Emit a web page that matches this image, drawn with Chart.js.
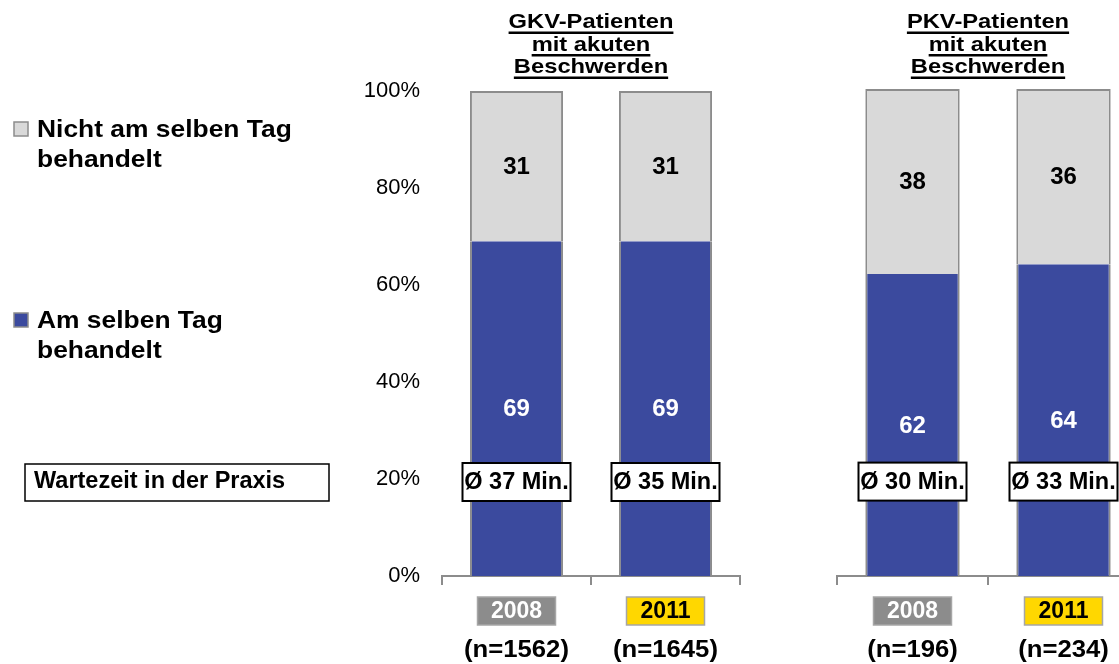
<!DOCTYPE html>
<html lang="de">
<head>
<meta charset="utf-8">
<title>Wartezeit in der Praxis – GKV / PKV</title>
<script src="https://cdn.jsdelivr.net/npm/chart.js@4.4.1/dist/chart.umd.min.js"></script>
<style>
  html, body { margin: 0; padding: 0; background: #fff; overflow: hidden; width: 1119px; height: 664px; }
  #wrapGKV { position: absolute; left: 0; top: 0; width: 760px; height: 664px; }
  /* rechte Gruppe läuft wie im Original über den Rand hinaus */
  #wrapPKV { position: absolute; left: 760px; top: 0; width: 400px; height: 664px; }
</style>
</head>
<body>
<div id="wrapGKV"><canvas id="chartGKV"></canvas></div>
<div id="wrapPKV"><canvas id="chartPKV"></canvas></div>
<script>
// ---- Daten ----
const years = ['2008', '2011'];
const seriesLabels = [['Am selben Tag', 'behandelt'], ['Nicht am selben Tag', 'behandelt']];
const titleGKV = ['GKV-Patienten', 'mit akuten', 'Beschwerden'];
const titlePKV = ['PKV-Patienten', 'mit akuten', 'Beschwerden'];
const sameDayGKV = [69, 69];
const notSameDayGKV = [31, 31];
const sameDayPKV = [62, 64];
const notSameDayPKV = [38, 36];
const waitGKV = [37, 35];   // Ø Minuten
const waitPKV = [30, 33];
const nGKV = [1562, 1645];
const nPKV = [196, 234];
const yTicks = [0, 20, 40, 60, 80, 100];
const waitLabel = 'Wartezeit in der Praxis';

// ---- Stil ----
const FONT = "'Liberation Sans', Arial, Helvetica, sans-serif";
const BLUE = '#3b4a9e';
const LIGHT = '#d9d9d9';
const EDGE = '#8c8c8c';
const yearFill = ['#8c8c8c', '#ffd700'];
const yearInk = ['#ffffff', '#000000'];

// sx: horizontale Streckung, im Original sind manche Texte etwas breiter gezogen
function txt(ctx, s, x, y, size, color, align, sx) {
  ctx.save();
  ctx.font = `bold ${size}px ${FONT}`;
  ctx.fillStyle = color;
  ctx.textAlign = align || 'center';
  ctx.textBaseline = 'middle';
  ctx.translate(x, y);
  ctx.scale(sx || 1, 1);
  ctx.fillText(s, 0, 0);
  ctx.restore();
}

function box(ctx, x, y, w, h, fill, stroke, lw) {
  ctx.save();
  ctx.fillStyle = fill;
  ctx.fillRect(x, y, w, h);
  ctx.strokeStyle = stroke;
  ctx.lineWidth = lw;
  ctx.strokeRect(x, y, w, h);
  ctx.restore();
}

// Zeichnet Titel, Werte, Wartezeit-Kästen, Jahres-Labels und (links) die Legende
const deco = {
  id: 'deco',
  afterDatasetsDraw(chart, args, opts) {
    const ctx = chart.ctx;
    const area = chart.chartArea;
    const yScale = chart.scales.y;

    // Werte mitten im Segment
    chart.data.datasets.forEach((ds, di) => {
      chart.getDatasetMeta(di).data.forEach((bar, i) => {
        const yc = (bar.y + bar.base) / 2;
        txt(ctx, String(ds.data[i]), bar.x, yc + 1, 24, di === 0 ? '#fff' : '#000', 'center');
      });
    });

    const bars = chart.getDatasetMeta(0).data;
    bars.forEach((bar, i) => {
      // Wartezeit-Kasten
      const yc = yScale.getPixelForValue(20) + 3;
      box(ctx, bar.x - 54, yc - 19, 108, 38, '#fff', '#000', 2);
      txt(ctx, 'Ø ' + opts.waits[i] + ' Min.', bar.x, yc + 1, 23.5, '#000', 'center');

      // Jahr + Fallzahl unter der Achse
      box(ctx, bar.x - 39, 597, 78, 28, yearFill[i], '#a6a6a6', 1.5);
      txt(ctx, years[i], bar.x, 612, 23, yearInk[i], 'center');
      txt(ctx, '(n=' + opts.samples[i] + ')', bar.x, 650, 24, '#000', 'center', 1.07);
    });

    // Titel, unterstrichen
    const cx = (area.left + area.right) / 2;
    const base = [28, 50.5, 73];
    const tsx = 1.13;
    opts.title.forEach((line, k) => {
      ctx.save();
      ctx.font = `bold 21px ${FONT}`;
      ctx.fillStyle = '#000';
      ctx.textAlign = 'center';
      ctx.textBaseline = 'alphabetic';
      const w = ctx.measureText(line).width * tsx;
      ctx.fillRect(cx - w / 2, base[k] + 3.5, w, 2.5);
      ctx.translate(cx, base[k]);
      ctx.scale(tsx, 1);
      ctx.fillText(line, 0, 0);
      ctx.restore();
    });

    if (!opts.legend) return;

    // Legende links (oben grau, unten blau)
    const items = [
      { ds: chart.data.datasets[1], y: 130 },
      { ds: chart.data.datasets[0], y: 321 }
    ];
    items.forEach(it => {
      box(ctx, 14, it.y - 8, 14, 14, it.ds.backgroundColor, EDGE, 1.5);
      it.ds.legendLines.forEach((line, k) => {
        txt(ctx, line, 37, it.y + k * 30, 24, '#000', 'left', 1.1);
      });
    });

    box(ctx, 25, 464, 304, 37, '#fff', '#000', 1.5);
    txt(ctx, waitLabel, 34, 482, 23.5, '#000', 'left');
  }
};

function makeChart(id, sameDay, notSameDay, waits, samples, title, showY, pad) {
  return new Chart(document.getElementById(id), {
    type: 'bar',
    data: {
      labels: years,
      datasets: [
        {
          label: seriesLabels[0].join(' '),
          legendLines: seriesLabels[0],
          data: sameDay,
          backgroundColor: BLUE,
          borderColor: EDGE,
          borderWidth: { top: 0, left: 2, right: 2, bottom: 0 }
        },
        {
          label: seriesLabels[1].join(' '),
          legendLines: seriesLabels[1],
          data: notSameDay,
          backgroundColor: LIGHT,
          borderColor: EDGE,
          borderWidth: { top: 2, left: 2, right: 2, bottom: 0 }
        }
      ]
    },
    options: {
      responsive: true,
      maintainAspectRatio: false,
      animation: false,
      layout: { padding: pad },
      datasets: { bar: { categoryPercentage: 1, barPercentage: 0.625 } },
      plugins: {
        legend: { display: false },
        tooltip: { enabled: false },
        deco: { waits: waits, samples: samples, title: title, legend: showY }
      },
      scales: {
        x: {
          stacked: true,
          ticks: { display: false },
          grid: { offset: true, drawOnChartArea: false, drawTicks: true, tickLength: 9, color: EDGE, lineWidth: 2 },
          border: { display: true, color: EDGE, width: 2 },
          afterFit: s => { s.height = 88; }
        },
        y: {
          stacked: true,
          display: showY,
          min: 0,
          max: 100,
          afterBuildTicks: s => { s.ticks = yTicks.map(v => ({ value: v })); },
          ticks: {
            padding: 22,
            color: '#000',
            font: { family: FONT, size: 22 },
            callback: v => v + '%'
          },
          grid: { display: false, drawTicks: false },
          border: { display: false },
          // afterFit läuft auch bei display:false – nur bei sichtbarer Achse Breite setzen
          afterFit: s => { if (showY) s.width = 442; }
        }
      }
    },
    plugins: [deco]
  });
}

makeChart('chartGKV', sameDayGKV, notSameDayGKV, waitGKV, nGKV, titleGKV, true,
  { top: 91, right: 20, left: 0, bottom: 0 });
makeChart('chartPKV', sameDayPKV, notSameDayPKV, waitPKV, nPKV, titlePKV, false,
  { top: 89, right: 21, left: 77, bottom: 0 });
</script>
</body>
</html>
